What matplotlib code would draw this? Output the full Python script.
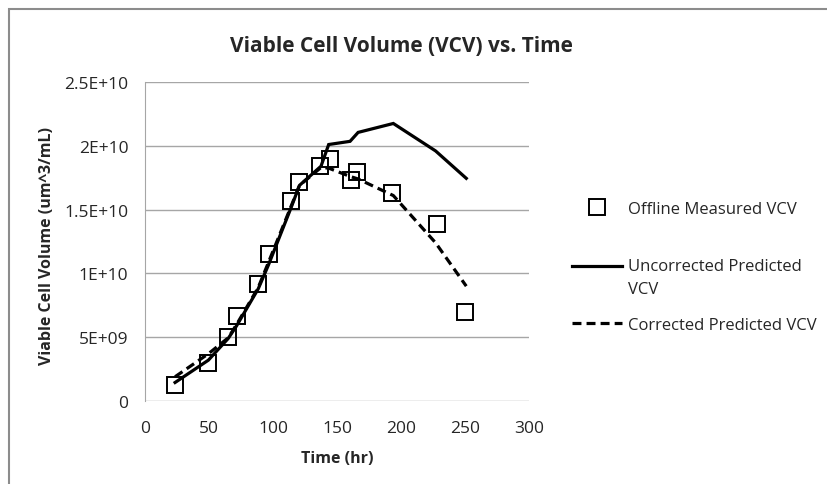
import numpy as np
import matplotlib
matplotlib.use("Agg")
import matplotlib.pyplot as plt
from matplotlib.patches import Rectangle
from matplotlib.legend_handler import HandlerLine2D

# offline measurements (time in hr, VCV in um^3/mL)
measured_time = [23.5, 49.5, 65, 71.6, 88.5, 96.6, 114.3, 120.7, 136.7, 144.2, 160.7, 165.9, 192.9, 228, 250.3]
measured_vcv = [1.22e9, 3.0e9, 5.0e9, 6.7e9, 9.2e9, 11.55e9, 15.65e9, 17.2e9, 18.4e9, 18.98e9, 17.35e9, 17.95e9, 16.3e9, 13.87e9, 6.95e9]

# model predictions
pred_time = [23.5, 49.5, 65, 71.6, 88.5, 96.6, 114.3, 120.7, 137.5, 143.5, 160.2, 166.5, 194, 227, 251]
uncorrected_vcv = [1.45e9, 3.2e9, 4.9e9, 5.9e9, 8.8e9, 10.7e9, 15.2e9, 16.9e9, 18.4e9, 20.1e9, 20.35e9, 21.05e9, 21.75e9, 19.6e9, 17.45e9]
corrected_vcv = [1.9e9, 3.7e9, 4.95e9, 6.0e9, 8.9e9, 10.9e9, 15.3e9, 16.9e9, 18.3e9, 18.25e9, 17.6e9, 17.4e9, 16.1e9, 12.4e9, 9.0e9]

x_ticks = [0, 50, 100, 150, 200, 250, 300]
y_ticks = [0, 5e9, 1e10, 1.5e10, 2e10, 2.5e10]
y_tick_labels = ["0", "5E+09", "1E+10", "1.5E+10", "2E+10", "2.5E+10"]


class TopLineHandler(HandlerLine2D):
    # put the line next to the first row of a two-line label, like Excel does
    def create_artists(self, legend, orig_handle, xdescent, ydescent, width, height, fontsize, trans):
        artists = super().create_artists(legend, orig_handle, xdescent, ydescent, width, height, fontsize, trans)
        for a in artists:
            a.set_ydata(np.asarray(a.get_ydata()) + 0.68 * fontsize)
        return artists


plt.rcParams["font.family"] = ["Open Sans", "DejaVu Sans"]
txt = "#262626"

fig = plt.figure(figsize=(8.28, 4.85), dpi=100)
ax = fig.add_axes([145 / 828, 1 - 402 / 485, 384 / 828, 319 / 485])

unc, = ax.plot(pred_time, uncorrected_vcv, color="black", lw=2.3, solid_joinstyle="miter",
               label="Uncorrected Predicted\nVCV", zorder=3)
cor, = ax.plot(pred_time, corrected_vcv, color="black", lw=2.3, linestyle=(0, (2.8, 1.6)),
               label="Corrected Predicted VCV", zorder=3)
meas, = ax.plot(measured_time, measured_vcv, linestyle="none", marker="s", markersize=11,
                markerfacecolor="none", markeredgecolor="black", markeredgewidth=1.4,
                label="Offline Measured VCV", zorder=4)

ax.set_xlim(0, 300)
ax.set_ylim(0, 2.5e10)
ax.set_xticks(x_ticks)
ax.set_yticks(y_ticks)
ax.set_yticklabels(y_tick_labels)
ax.tick_params(length=0, labelsize=12.5, labelcolor=txt)
ax.tick_params(axis="x", pad=14)
ax.tick_params(axis="y", pad=12)
ax.grid(axis="y", color="#a6a6a6", lw=1)
ax.set_axisbelow(True)
for side in ["top", "right", "bottom"]:
    ax.spines[side].set_visible(False)
ax.spines["left"].set_color("#a6a6a6")

ax.set_xlabel("Time (hr)", fontsize=11.5, fontweight="bold", color=txt)
ax.set_ylabel("Viable Cell Volume (um^3/mL)", fontsize=11.5, fontweight="bold", color=txt)
ax.xaxis.set_label_coords(0.5, (402 - 451) / 319)
ax.yaxis.set_label_coords((55 - 145) / 384, 0.49)
fig.text(401 / 828, 1 - 46 / 485, "Viable Cell Volume (VCV) vs. Time", ha="center", va="center",
         fontsize=15, fontweight="bold", color=txt)

leg_kw = dict(frameon=False, fontsize=12, handlelength=3.0, handletextpad=0.35,
              borderpad=0, borderaxespad=0, labelcolor=txt)
leg1 = fig.legend([meas], [meas.get_label()], loc="center left",
                  bbox_to_anchor=(572 / 828, 1 - 210 / 485), **leg_kw)
leg2 = fig.legend([unc, cor], [unc.get_label(), cor.get_label()], loc="upper left",
                  bbox_to_anchor=(572 / 828, 1 - 259 / 485), labelspacing=1.23,
                  handler_map={unc: TopLineHandler()}, **leg_kw)
leg2.get_texts()[0].set_linespacing(1.55)

# outer chart frame
fig.patches.append(Rectangle((9 / 828, -0.1), 1.2, 1 - 10 / 485 + 0.1, transform=fig.transFigure,
                             fill=False, edgecolor="#8c8c8c", lw=1.5))

fig.savefig("out.png", dpi=100)
